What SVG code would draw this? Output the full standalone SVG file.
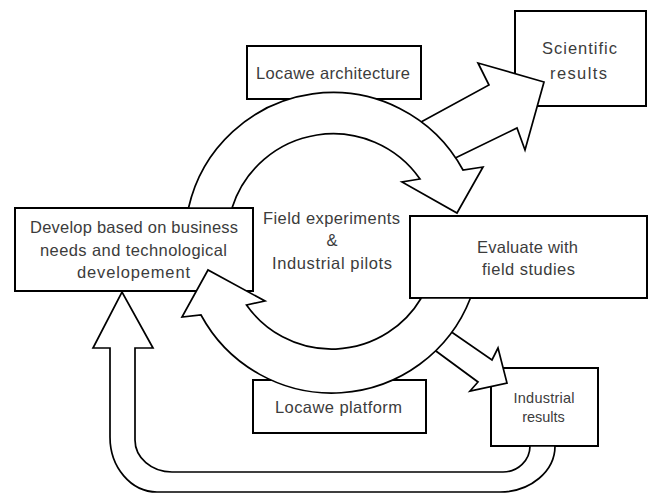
<svg xmlns="http://www.w3.org/2000/svg" width="649" height="494" viewBox="0 0 649 494">
  <style>
    .box { fill: #ffffff; stroke: #000000; stroke-width: 2; }
    .arrow { fill: #ffffff; stroke: #000000; stroke-width: 1.7; stroke-linejoin: miter; }
    text { font-family: "Liberation Sans", Arial, sans-serif; fill: #3c3c3c; text-anchor: middle; }
    .t { font-size: 16.5px; }
    .s { font-size: 14.5px; }
  </style>
  <rect width="649" height="494" fill="#ffffff"/>

  <!-- nodes -->
  <g id="scientific-results">
    <rect class="box" x="515" y="11" width="131" height="95"/>
    <text class="t" x="579.5" y="53.5" textLength="75" lengthAdjust="spacing">Scientific</text>
    <text class="t" x="578.5" y="78.5" textLength="57" lengthAdjust="spacing">results</text>
  </g>
  <g id="locawe-architecture">
    <rect class="box" x="247" y="46" width="174" height="53"/>
    <text class="t" x="333" y="78.5" textLength="154" lengthAdjust="spacing">Locawe architecture</text>
  </g>
  <g id="develop">
    <rect class="box" x="15" y="208" width="238" height="83"/>
    <text class="t" x="134" y="233" textLength="208" lengthAdjust="spacing">Develop based on business</text>
    <text class="t" x="133.5" y="255.5" textLength="187" lengthAdjust="spacing">needs and technological</text>
    <text class="t" x="133.5" y="278" textLength="113" lengthAdjust="spacing">developement</text>
  </g>
  <g id="evaluate">
    <rect class="box" x="410" y="216" width="237" height="82"/>
    <text class="t" x="527.5" y="252.5" textLength="101" lengthAdjust="spacing">Evaluate with</text>
    <text class="t" x="528.5" y="275" textLength="93" lengthAdjust="spacing">field studies</text>
  </g>
  <g id="locawe-platform">
    <rect class="box" x="253" y="380" width="173" height="53"/>
    <text class="t" x="338.5" y="412.5" textLength="127" lengthAdjust="spacing">Locawe platform</text>
  </g>
  <g id="industrial-results">
    <rect class="box" x="491" y="368" width="107" height="78"/>
    <text class="s" x="544" y="402.5" textLength="61" lengthAdjust="spacing">Industrial</text>
    <text class="s" x="543.5" y="421.5">results</text>
  </g>
  <g id="cycle-label">
    <text class="t" x="331.5" y="223.5" textLength="137" lengthAdjust="spacing">Field experiments</text>
    <text class="t" x="332" y="246">&amp;</text>
    <text class="t" x="332" y="268.5" textLength="120" lengthAdjust="spacing">Industrial pilots</text>
  </g>

  <!-- connectors: block arrows -->
  <g id="connectors">
    <!-- feedback loop from industrial results back to development -->
    <path class="arrow" d="M 555,446 A 55 46 0 0 1 500,492 L 157,492 A 47 55 0 0 1 110,437 L 110,348 L 93,348 L 122,292 L 153,348 L 135,348 L 135,440 A 37 32 0 0 0 172,472 L 503,472 A 27 26 0 0 0 530,446 Z"/>
    <!-- outputs leaving the cycle -->
    <polygon class="arrow" points="410,128 489,85 478,63 544,82 525,150 517,128 445,163"/>
    <polygon class="arrow" points="437,322 492,360 498,348 507,383 470,391 478,382 421,340"/>
    <!-- upper half of the cycle: develop to evaluate -->
    <path class="arrow" d="M 188.5,208 A 148 148 0 0 1 463,170 L 483,167 L 457,213 L 402,182 L 420,179 A 106 106 0 0 0 232,208 Z"/>
    <!-- lower half of the cycle: evaluate back to develop -->
    <path class="arrow" d="M 470.5,298 A 148.7 148.7 0 0 1 201,315 L 182,317 L 208,270 L 265,301 L 246.5,305 A 104.2 104.2 0 0 0 421.3,298 Z"/>
  </g>
</svg>
